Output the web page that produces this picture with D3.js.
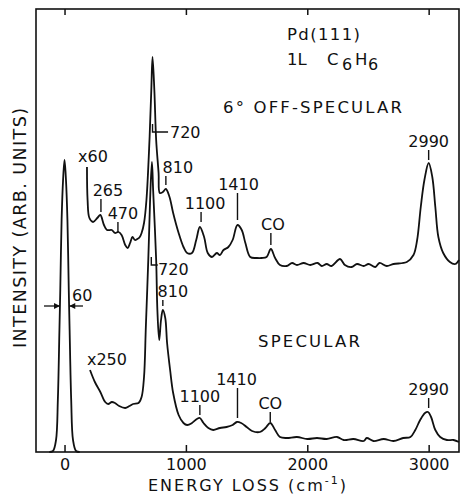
<!DOCTYPE html>
<html>
<head>
<meta charset="utf-8">
<script src="https://cdnjs.cloudflare.com/ajax/libs/d3/7.8.5/d3.min.js"></script>
<style>
body { margin: 0; background: #fff; }
svg text { font-family: "DejaVu Sans", sans-serif; fill: #111; }
</style>
</head>
<body>
<div id="chart"></div>
<script>
// EELS spectra, Pd(111) + 1L C6H6 (intensity in arbitrary units)

// elastic peak
var elasticLoss = [-125, -95, -70, -55, -42, -35, -24, -12, 0, 12, 24, 35, 42, 55, 70, 95, 125];
var elasticInt = [0, 1, 12, 52, 122, 162, 232, 272, 292, 272, 232, 162, 122, 52, 12, 1, 0];

// 6 deg off-specular, x60
var offLoss = [185, 190, 205, 235, 270, 295, 325, 350, 390, 415, 445, 470, 500, 520, 540, 560, 580, 600, 620, 635,
	655, 675, 700, 715, 725, 740, 755, 775, 785, 810, 835, 865, 895, 940, 980, 1010, 1050, 1085, 1115, 1150,
	1180, 1215, 1255, 1280, 1310, 1350, 1385, 1425, 1460, 1490, 1530, 1585, 1625, 1665, 1700, 1735, 1775, 1830, 1875, 1915,
	1970, 2025, 2085, 2120, 2160, 2200, 2270, 2310, 2365, 2410, 2465, 2505, 2560, 2595, 2655, 2710, 2820, 2875, 2905, 2935,
	2965, 3000, 3030, 3055, 3080, 3120, 3175, 3220, 3250];
var offInt = [285, 252, 234, 230, 234, 237, 227, 222, 222, 219, 220, 217, 207, 204, 209, 215, 212, 213, 215, 219,
	229, 252, 312, 362, 395, 362, 312, 279, 259, 260, 263, 255, 239, 219, 205, 199, 199, 212, 225, 215,
	199, 195, 199, 197, 202, 205, 212, 227, 222, 209, 195, 194, 194, 195, 203, 194, 187, 186, 189, 187,
	189, 187, 189, 186, 188, 186, 193, 187, 185, 188, 186, 188, 185, 189, 186, 188, 190, 197, 212, 245,
	272, 289, 275, 245, 215, 199, 190, 188, 192];

// specular, x250
var specLoss = [210, 250, 295, 335, 360, 390, 415, 450, 500, 535, 565, 610, 635, 655, 670, 690, 705, 720, 730, 755,
	765, 780, 795, 810, 830, 845, 870, 895, 940, 980, 1010, 1050, 1090, 1115, 1145, 1185, 1225, 1280, 1335, 1385,
	1420, 1455, 1500, 1545, 1610, 1655, 1695, 1735, 1775, 1830, 1915, 2000, 2080, 2160, 2245, 2300, 2380, 2465, 2490, 2545,
	2630, 2710, 2790, 2850, 2890, 2930, 2970, 2995, 3020, 3055, 3095, 3150, 3205, 3250];
var specInt = [82, 70, 60, 50, 48, 50, 49, 46, 44, 46, 48, 49, 55, 75, 125, 192, 252, 290, 262, 192,
	142, 112, 132, 142, 134, 109, 82, 59, 37, 29, 27, 29, 33, 34, 29, 24, 22, 24, 25, 27,
	30, 29, 25, 21, 20, 24, 29, 22, 15, 14, 15, 13, 14, 13, 15, 12, 13, 11, 14, 11,
	13, 11, 14, 15, 22, 32, 39, 40, 35, 22, 15, 12, 12, 10];

var xTicks = [0, 1000, 2000, 3000];

// peak labels (position in cm-1, tick top / bottom in intensity units)
var offLabels = ["265", "470", "810", "1100", "1410", "CO", "2990"];
var offLabelLoss = [300, 440, 835, 1125, 1425, 1700, 3000];
var offTickTop = [253, 230, 276, 240, 259, 219, 302];
var offTickBot = [240, 220, 267, 230, 232, 207, 292];
var offLabelShift = [7, 5, 12, 4, 1, 2, 0];

var specLabels = ["810", "1100", "1410", "CO", "2990"];
var specLabelLoss = [810, 1115, 1425, 1695, 3000];
var specTickTop = [152, 47, 64, 40, 54];
var specTickBot = [146, 37, 34, 30, 44];
var specLabelShift = [10, 0, -1, 0, 0];

var svgWidth = 460;
var svgHeight = 497;

var svg = d3.select("#chart")
	.append("svg")
	.attr("width", svgWidth)
	.attr("height", svgHeight);

var x = d3.scaleLinear().domain([-235, 3250]).range([36, 459]);
var y = d3.scaleLinear().domain([0, 443]).range([452, 9]);

// frame
svg.append("rect")
	.attr("x", x.range()[0])
	.attr("y", y.range()[1])
	.attr("width", x.range()[1] - x.range()[0])
	.attr("height", y.range()[0] - y.range()[1])
	.attr("fill", "none")
	.attr("stroke", "#111")
	.attr("stroke-width", 1.6);

var bottomAxis = svg.append("g")
	.attr("transform", `translate(0, ${y.range()[0]})`)
	.call(d3.axisBottom(x).tickValues(xTicks).tickFormat(d3.format("d"))
		.tickSizeInner(-7).tickSizeOuter(0).tickPadding(7));
bottomAxis.select(".domain").remove();
bottomAxis.selectAll("line").attr("stroke", "#111").attr("stroke-width", 1.5);
bottomAxis.selectAll("text")
	.attr("font-size", "16px")
	.attr("font-family", "DejaVu Sans, sans-serif")
	.attr("fill", "#111");

var topAxis = svg.append("g")
	.attr("transform", `translate(0, ${y.range()[1]})`)
	.call(d3.axisTop(x).tickValues(xTicks).tickSizeInner(-6).tickSizeOuter(0).tickFormat(""));
topAxis.select(".domain").remove();
topAxis.selectAll("line").attr("stroke", "#111").attr("stroke-width", 1.5);

// spectra
var line = d3.line()
	.x(d => x(d[0]))
	.y(d => y(d[1]))
	.curve(d3.curveCatmullRom.alpha(0.5));

function drawSpectrum(loss, inten) {
	svg.append("path")
		.datum(d3.zip(loss, inten))
		.attr("d", line)
		.attr("fill", "none")
		.attr("stroke", "#111")
		.attr("stroke-width", 1.8)
		.attr("stroke-linejoin", "round");
}
drawSpectrum(elasticLoss, elasticInt);
drawSpectrum(offLoss, offInt);
drawSpectrum(specLoss, specInt);

// peak labels
function drawLabels(labels, loss, top, bot, shift) {
	labels.forEach((t, i) => {
		svg.append("line")
			.attr("x1", x(loss[i])).attr("x2", x(loss[i]))
			.attr("y1", y(top[i])).attr("y2", y(bot[i]))
			.attr("stroke", "#111")
			.attr("stroke-width", 1.4);
		svg.append("text")
			.attr("x", x(loss[i]) + shift[i])
			.attr("y", y(top[i]) - 3.5)
			.attr("text-anchor", "middle")
			.attr("font-size", "16px")
			.text(t);
	});
}
drawLabels(offLabels, offLabelLoss, offTickTop, offTickBot, offLabelShift);
drawLabels(specLabels, specLabelLoss, specTickTop, specTickBot, specLabelShift);

// 720 leaders
function leader(px, top, bot, endLoss, textLoss, textInt) {
	svg.append("path")
		.attr("d", `M${x(px)},${y(top)}V${y(bot)}H${x(endLoss)}`)
		.attr("fill", "none")
		.attr("stroke", "#111")
		.attr("stroke-width", 1.4);
	svg.append("text")
		.attr("x", x(textLoss))
		.attr("y", y(textInt))
		.attr("font-size", "16px")
		.text("720");
}
leader(725, 328, 320, 853, 869, 314);
leader(715, 195, 187, 768, 771, 177);

// multipliers
svg.append("text").attr("x", x(111)).attr("y", y(290)).attr("font-size", "16px").text("x60");
svg.append("text").attr("x", x(185)).attr("y", y(87)).attr("font-size", "16px").text("x250");

// FWHM arrows
var hm = 146;
svg.append("line")
	.attr("x1", x(-169)).attr("x2", x(-37)).attr("y1", y(hm)).attr("y2", y(hm))
	.attr("stroke", "#111").attr("stroke-width", 1.3);
svg.append("line")
	.attr("x1", x(152)).attr("x2", x(39)).attr("y1", y(hm)).attr("y2", y(hm))
	.attr("stroke", "#111").attr("stroke-width", 1.3);
svg.append("path")
	.attr("d", `M${x(-37)},${y(hm)}l-6,-3v6z M${x(39)},${y(hm)}l6,-3v6z`)
	.attr("fill", "#111");
svg.append("text").attr("x", x(62)).attr("y", y(151)).attr("font-size", "16px").text("60");

// titles
svg.append("text").attr("x", 287).attr("y", 39.5).attr("font-size", "16.5px")
	.attr("textLength", 73).attr("lengthAdjust", "spacing").text("Pd(111)");
svg.append("text").attr("x", 287).attr("y", 65).attr("font-size", "16.5px").text("1L");
svg.append("text").attr("x", 327).attr("y", 65).attr("font-size", "16.5px").text("C");
svg.append("text").attr("x", 342).attr("y", 69.5).attr("font-size", "16px").text("6");
svg.append("text").attr("x", 355).attr("y", 65).attr("font-size", "16.5px").text("H");
svg.append("text").attr("x", 368).attr("y", 69.5).attr("font-size", "16px").text("6");

svg.append("text").attr("x", 223).attr("y", 113).attr("font-size", "16.5px")
	.attr("textLength", 179).attr("lengthAdjust", "spacing").text("6° OFF-SPECULAR");
svg.append("text").attr("x", 258).attr("y", 347).attr("font-size", "16.5px")
	.attr("textLength", 102).attr("lengthAdjust", "spacing").text("SPECULAR");

// axis titles
var xTitle = svg.append("text")
	.attr("x", 148)
	.attr("y", 491)
	.attr("font-size", "16px")
	.attr("letter-spacing", "2px");
xTitle.append("tspan").text("ENERGY LOSS (cm");
xTitle.append("tspan").attr("font-size", "11px").attr("dy", -7).text("-1");
xTitle.append("tspan").attr("dy", 7).text(")");

svg.append("text")
	.attr("transform", "translate(26, 228) rotate(-90)")
	.attr("text-anchor", "middle")
	.attr("font-size", "17.5px")
	.attr("textLength", 240)
	.attr("lengthAdjust", "spacing")
	.text("INTENSITY (ARB. UNITS)");
</script>
</body>
</html>
